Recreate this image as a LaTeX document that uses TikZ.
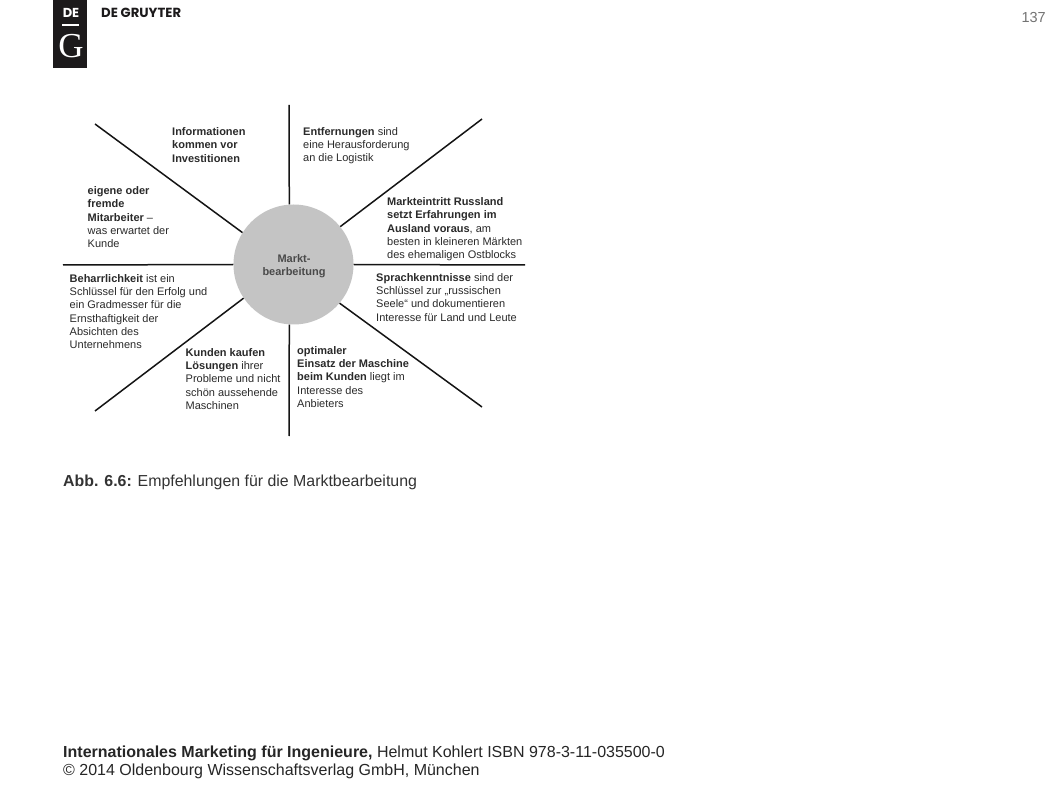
\documentclass[tikz,border=0pt]{standalone}
\usepackage{fontspec}
\setmainfont{Liberation Sans}
\newfontfamily\logofont{Poppins}
\newfontfamily\seriflogo{Liberation Serif}
\definecolor{hubgray}{HTML}{C4C4C4}
\definecolor{logoblack}{HTML}{1C1A1B}
\definecolor{inktext}{HTML}{2A2A2A}
\definecolor{hubtext}{HTML}{4A4A4A}
\tikzset{
  spoke/.style={draw=black!92, line width=1.5pt},
  lbl/.style={anchor=north west, inner sep=0pt, align=left, text=inktext, font=\fontsize{11}{13.3}\selectfont},
  foot/.style={anchor=base west, inner sep=0pt, align=left, text=black!85, font=\fontsize{16}{20}\selectfont},
}
\begin{document}
\begin{tikzpicture}[x=1pt,y=-1pt]
\useasboundingbox (0,0) rectangle (1058,794);
\fill[white] (0,0) rectangle (1058,794);
% logo
\fill[logoblack] (53,0) rectangle (87,68);
\node (de) at (71,13) [inner sep=0pt, text=white, font=\logofont\bfseries\fontsize{13}{13}\selectfont] {DE};
\fill[white] (62,24.5) rectangle (79,26);
\node (g) at (71,46) [inner sep=0pt, text=white, font=\seriflogo\fontsize{35}{35}\selectfont] {G};
\node (brand) at (101,13) [anchor=west, inner sep=0pt, text=logoblack, font=\logofont\bfseries\fontsize{13.2}{13.2}\selectfont] {DE GRUYTER};
\node (page) at (1046,18) [anchor=east, inner sep=0pt, text=black!55, font=\fontsize{14.5}{16}\selectfont] {137};
% hub
\node (hub) at (293.5,264.5) [circle, fill=hubgray, minimum size=120pt, inner sep=0pt] {};
\node (hubtxt) at (294,266) [inner sep=0pt, text=hubtext, align=center, font=\bfseries\fontsize{11}{13.5}\selectfont] {Markt-\\bearbeitung};
% free ends
\coordinate (n) at (289,105);
\coordinate (ne) at (482,119);
\coordinate (e) at (525,265);
\coordinate (se) at (482,407);
\coordinate (s) at (289,436);
\coordinate (sw) at (95,411);
\coordinate (w) at (63,265);
\coordinate (nw) at (95,124);
\draw[spoke] (n) -- (hub.94.3);
\draw[spoke] (ne) -- (hub.39.5);
\draw[spoke] (e) -- (hub.0);
\draw[spoke] (se) -- (hub.-40);
\draw[spoke] (s) -- (hub.-94.3);
\draw[spoke] (sw) -- (hub.-146);
\draw[spoke] (w) -- (hub.180);
\draw[spoke] (nw) -- (hub.148);
% labels
\node (l1) at (172,127.5) [lbl] {\textbf{Informationen}\\\textbf{kommen vor}\\\textbf{Investitionen}};
\node (l2) at (303,127) [lbl] {\textbf{Entfernungen} sind\\eine Herausforderung\\an die Logistik};
\node (l3) at (387,197.5) [lbl] {\textbf{Markteintritt Russland}\\\textbf{setzt Erfahrungen im}\\\textbf{Ausland voraus}, am\\besten in kleineren Märkten\\des ehemaligen Ostblocks};
\node (l4) at (376,273) [lbl] {\textbf{Sprachkenntnisse} sind der\\Schlüssel zur „russischen\\Seele“ und dokumentieren\\Interesse für Land und Leute};
\node (l5) at (297,346) [lbl] {\textbf{optimaler}\\\textbf{Einsatz der Maschine}\\\textbf{beim Kunden} liegt im\\Interesse des\\Anbieters};
\node (l6) at (185.5,348) [lbl] {\textbf{Kunden kaufen}\\\textbf{Lösungen} ihrer\\Probleme und nicht\\schön aussehende\\Maschinen};
\node (l7) at (69.5,274) [lbl] {\textbf{Beharrlichkeit} ist ein\\Schlüssel für den Erfolg und\\ein Gradmesser für die\\Ernsthaftigkeit der\\Absichten des\\Unternehmens};
\node (l8) at (87.5,186.5) [lbl] {\textbf{eigene oder}\\\textbf{fremde}\\\textbf{Mitarbeiter} –\\was erwartet der\\Kunde};
% caption and footer
\node (cap) at (63,486) [anchor=base west, inner sep=0pt, text=black!80, font=\fontsize{15.9}{16}\selectfont] {\textbf{Abb. 6.6:} Empfehlungen für die Marktbearbeitung};
\node (f1) at (63,757) [foot] {\textbf{Internationales Marketing für Ingenieure,} Helmut Kohlert ISBN 978-3-11-035500-0};
\node (f2) at (63,775) [foot] {© 2014 Oldenbourg Wissenschaftsverlag GmbH, München};
\end{tikzpicture}
\end{document}
